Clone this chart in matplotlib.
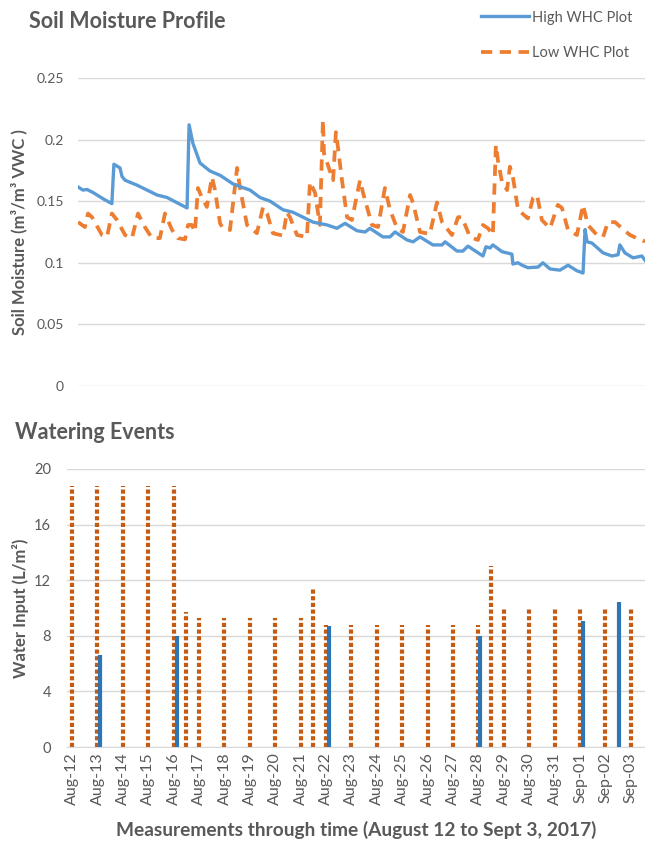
import numpy as np
import matplotlib
matplotlib.use('Agg')
import matplotlib.pyplot as plt

plt.rcParams['font.family'] = ['Lato', 'DejaVu Sans']

# ---- soil moisture (days since Aug 12, 00:00) ----
high_t = [0.24, 0.43, 0.59, 0.83, 1.22, 1.57, 1.65, 1.89, 1.97, 2.09, 2.56, 3.35, 3.74, 4.53,
          4.61, 4.76, 5.04, 5.43, 5.83, 6.34, 6.73, 7.01, 7.40, 7.80, 8.31, 8.70, 9.49, 10.04,
          10.43, 10.75, 11.22, 11.54, 11.73, 12.24, 12.52, 12.72, 13.19, 13.43, 13.70, 14.21,
          14.57, 14.69, 15.16, 15.39, 15.59, 16.18, 16.30, 16.46, 16.57, 16.93, 17.32, 17.36,
          17.56, 17.72, 17.95, 18.35, 18.54, 18.82, 19.21, 19.53, 19.88, 20.12, 20.20, 20.28,
          20.47, 20.91, 21.26, 21.50, 21.57, 21.77, 22.09, 22.44, 22.56]
high_vwc = [0.1615, 0.159, 0.1595, 0.157, 0.152, 0.148, 0.180, 0.177, 0.170, 0.167, 0.163, 0.155,
            0.153, 0.1445, 0.212, 0.197, 0.181, 0.1745, 0.171, 0.164, 0.161, 0.159, 0.153, 0.150,
            0.143, 0.141, 0.133, 0.1307, 0.128, 0.132, 0.126, 0.125, 0.128, 0.121, 0.121, 0.125,
            0.1185, 0.117, 0.121, 0.1145, 0.1145, 0.117, 0.1095, 0.1095, 0.1135, 0.1055, 0.113,
            0.112, 0.1145, 0.109, 0.107, 0.099, 0.100, 0.098, 0.096, 0.0965, 0.100, 0.095, 0.094,
            0.098, 0.0935, 0.0917, 0.127, 0.117, 0.116, 0.108, 0.1055, 0.1065, 0.1145, 0.108,
            0.104, 0.1055, 0.102]

low_t = [0.24, 0.51, 0.63, 0.79, 1.18, 1.38, 1.57, 1.77, 2.09, 2.36, 2.60, 2.87, 3.15, 3.46,
         3.66, 3.94, 4.17, 4.45, 4.57, 4.72, 4.84, 4.96, 5.12, 5.31, 5.51, 5.63, 5.83, 5.94,
         6.22, 6.50, 6.61, 6.89, 7.28, 7.52, 7.68, 7.91, 8.31, 8.46, 8.58, 8.86, 9.25, 9.37,
         9.57, 9.76, 9.88, 9.92, 10.08, 10.28, 10.39, 10.47, 10.63, 10.83, 11.02, 11.34, 11.46,
         11.81, 12.05, 12.32, 12.52, 12.80, 13.03, 13.31, 13.43, 13.70, 14.09, 14.37, 14.57,
         14.96, 15.20, 15.35, 15.67, 15.98, 16.18, 16.38, 16.57, 16.69, 16.77, 16.93, 17.13,
         17.24, 17.36, 17.56, 17.95, 18.15, 18.31, 18.50, 18.82, 19.13, 19.29, 19.53, 19.88,
         20.12, 20.31, 20.67, 20.91, 21.10, 21.38, 21.65, 21.97, 22.48, 22.56]
low_vwc = [0.133, 0.129, 0.140, 0.137, 0.1225, 0.121, 0.140, 0.1347, 0.1225, 0.120, 0.140, 0.129,
           0.120, 0.120, 0.140, 0.1266, 0.120, 0.119, 0.1307, 0.1307, 0.125, 0.1607, 0.1526,
           0.1453, 0.1696, 0.159, 0.132, 0.128, 0.1266, 0.177, 0.1615, 0.1307, 0.124, 0.145,
           0.140, 0.124, 0.122, 0.141, 0.137, 0.1225, 0.121, 0.1656, 0.1567, 0.1307, 0.216,
           0.189, 0.179, 0.167, 0.206, 0.194, 0.167, 0.137, 0.1347, 0.167, 0.1567, 0.1307, 0.129,
           0.1607, 0.143, 0.128, 0.125, 0.155, 0.1485, 0.125, 0.1234, 0.149, 0.133, 0.1225,
           0.137, 0.137, 0.121, 0.1185, 0.1307, 0.128, 0.1225, 0.1956, 0.183, 0.1656, 0.159,
           0.178, 0.1696, 0.143, 0.136, 0.1526, 0.155, 0.1347, 0.128, 0.147, 0.1445, 0.1266,
           0.1225, 0.147, 0.1307, 0.1225, 0.121, 0.133, 0.133, 0.128, 0.1225, 0.1177, 0.118]

# ---- watering events ----
low_day = [0, 1, 2, 3, 4, 4.5, 5, 6, 7, 8, 9, 9.5, 10, 11, 12, 13, 14, 15, 16, 16.5, 17, 18,
           19, 20, 21, 22]
low_water = [18.8, 18.8, 18.8, 18.8, 18.8, 9.7, 9.3, 9.3, 9.3, 9.3, 9.3, 11.4, 8.8, 8.8, 8.8,
             8.8, 8.8, 8.8, 8.8, 13.0, 10.0, 10.0, 10.0, 10.0, 10.0, 10.0]
high_day = [1.1, 4.15, 10.1, 16.05, 20.1, 21.55]
high_water = [6.6, 8.0, 8.7, 8.0, 9.1, 10.4]

date_labels = ['Aug-%02d' % d for d in range(12, 32)] + ['Sep-01', 'Sep-02', 'Sep-03']

gray = '#595959'
grid = '#D9D9D9'

fig = plt.figure(figsize=(6.45, 8.42), dpi=100)

# top panel
ax1 = fig.add_axes([0.1209, 0.5416, 0.8791, 0.3658])
ax1.plot(high_t, high_vwc, color='#5B9BD5', lw=2.4, label='High WHC Plot', zorder=3)
ax1.plot(low_t, low_vwc, color='#ED7D31', lw=2.7, ls=(0, (3, 2)), label='Low WHC Plot', zorder=2)
ax1.set_xlim(0.236, 22.56)
ax1.set_ylim(0, 0.25)
ax1.set_yticks([0, 0.05, 0.1, 0.15, 0.2, 0.25])
ax1.set_yticklabels(['0', '0.05', '0.1', '0.15', '0.2', '0.25'])
ax1.set_xticks([])
ax1.grid(axis='y', color=grid, lw=1)
ax1.set_axisbelow(True)
for s in ax1.spines.values():
    s.set_visible(False)
ax1.tick_params(axis='y', length=0, pad=10, labelsize=10, labelcolor=gray)
ax1.set_ylabel('Soil Moisture (m³/m³ VWC )', fontsize=12, fontweight='bold', color=gray)
ax1.yaxis.set_label_coords(-0.09, 0.5)
fig.text(0.045, 0.974, 'Soil Moisture Profile', fontsize=15.5, fontweight='bold', color=gray,
         va='center', ha='left')
leg = fig.legend(loc='upper left', bbox_to_anchor=(0.725, 1.003), frameon=False,
                 fontsize=10.5, labelspacing=1.5, handlelength=3.3, handletextpad=0.2)
for t in leg.get_texts():
    t.set_color(gray)

# bottom panel
ax2 = fig.add_axes([0.1039, 0.1128, 0.8961, 0.3302])
ax2.vlines(low_day, 0, low_water, color='#C55A11', lw=3, linestyles=(0, (1, 0.6)), zorder=2)
ax2.vlines(high_day, 0, high_water, color='#2E75B6', lw=3, zorder=3)
ax2.set_xlim(-0.2, 22.56)
ax2.set_ylim(0, 20)
ax2.set_yticks([0, 4, 8, 12, 16, 20])
ax2.set_xticks(np.arange(len(date_labels)))
ax2.set_xticklabels(date_labels, rotation=90, fontsize=11.5, color=gray)
ax2.grid(axis='y', color=grid, lw=1)
ax2.set_axisbelow(True)
for s in ['top', 'right', 'left']:
    ax2.spines[s].set_visible(False)
ax2.spines['bottom'].set_color(grid)
ax2.tick_params(axis='y', length=0, pad=11.5, labelsize=10.5, labelcolor=gray)
ax2.tick_params(axis='x', length=0, pad=4)
ax2.set_ylabel('Water Input (L/m²)', fontsize=12, fontweight='bold', color=gray)
ax2.yaxis.set_label_coords(-0.066, 0.5)
fig.text(0.023, 0.486, 'Watering Events', fontsize=15.5, fontweight='bold', color=gray,
         va='center', ha='left')
fig.text(0.553, 0.014, 'Measurements through time (August 12 to Sept 3, 2017)', fontsize=13.8,
         fontweight='bold', color=gray, ha='center', va='center')

fig.savefig('out.png', dpi=100)
